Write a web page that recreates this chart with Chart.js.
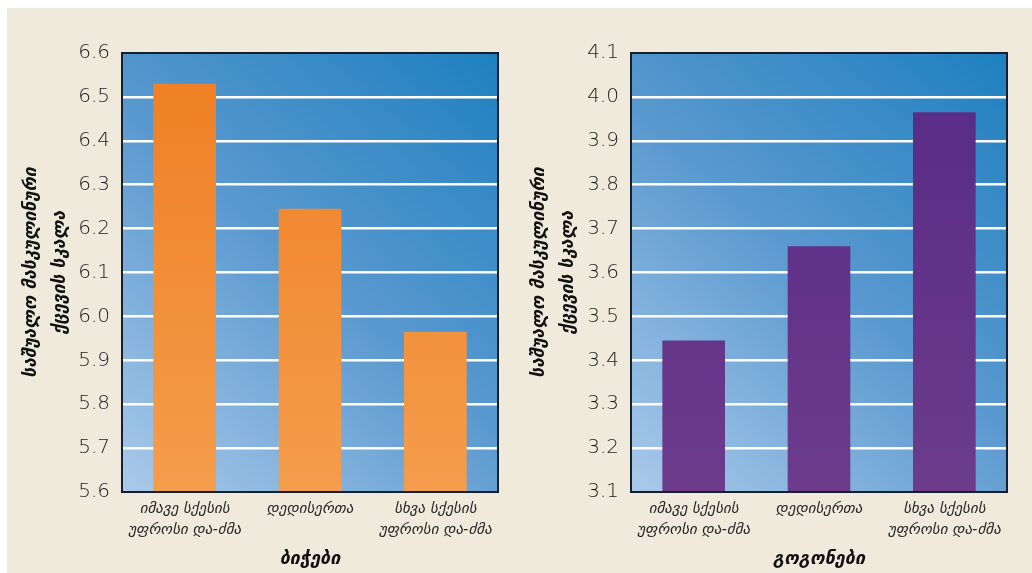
<!DOCTYPE html>
<html lang="ka">
<head>
<meta charset="utf-8">
<title>საშუალო მასკულინური ქცევის სკალა</title>
<script src="https://cdn.jsdelivr.net/npm/chart.js@4.4.1/dist/chart.umd.min.js"></script>
<style>
    html, body { margin: 0; padding: 0; background: #ffffff; }
    #fundo {
        position: absolute; left: 7px; top: 8px; width: 1025px; height: 565px;
        background: #f0eadd;
    }
    .caixa { position: absolute; top: 8px; height: 565px; }
    #caixaBichebi { left: 7px; width: 508px; }
    #caixaGogonebi { left: 515px; width: 517px; }
</style>
</head>
<body>
<div id="fundo"></div>
<div class="caixa" id="caixaBichebi"><canvas id="graficoBichebi"></canvas></div>
<div class="caixa" id="caixaGogonebi"><canvas id="graficoGogonebi"></canvas></div>

<script>
// dados
const categorias = [
    ['იმავე სქესის', 'უფროსი და-ძმა'],
    'დედისერთა',
    ['სხვა სქესის', 'უფროსი და-ძმა']
];
const valoresBichebi = [6.53, 6.245, 5.965];
const valoresGogonebi = [3.445, 3.66, 3.965];
const escalaBichebi = [5.6, 6.6];
const escalaGogonebi = [3.1, 4.1];
const tituloY = ['საშუალო მასკულინური', 'ქცევის სკალა'];
const tituloBichebi = 'ბიჭები';
const tituloGogonebi = 'გოგონები';

const fonteGeo = '"DejaVu Sans", sans-serif';

// fundo em degradê azul + moldura escura da área do gráfico
const pluginFundo = {
    id: 'fundoAzul',
    beforeDraw(chart) {
        const a = chart.chartArea;
        if (!a) return;
        const ctx = chart.ctx;
        const g = ctx.createLinearGradient(a.left, a.bottom, a.right, a.top);
        g.addColorStop(0, '#aacaea');
        g.addColorStop(0.5, '#5a99cf');
        g.addColorStop(1, '#1e80c0');
        ctx.save();
        ctx.fillStyle = g;
        ctx.fillRect(a.left, a.top, a.right - a.left, a.bottom - a.top);
        ctx.restore();
    },
    afterDatasetsDraw(chart) {
        const a = chart.chartArea;
        const ctx = chart.ctx;
        ctx.save();
        ctx.strokeStyle = '#15202c';
        ctx.lineWidth = 2;
        ctx.strokeRect(a.left, a.top, a.right - a.left, a.bottom - a.top);
        ctx.restore();
    }
};

function corBarra(cima, baixo) {
    return function(context) {
        const a = context.chart.chartArea;
        if (!a) return cima;
        const g = context.chart.ctx.createLinearGradient(0, a.top, 0, a.bottom);
        g.addColorStop(0, cima);
        g.addColorStop(1, baixo);
        return g;
    };
}

function criarGrafico(canvasId, valores, escala, tituloX, cores, padDireita) {
    const canvasEl = document.getElementById(canvasId);
    return new Chart(canvasEl, {
        type: 'bar',
        data: {
            labels: categorias,
            datasets: [{
                data: valores,
                backgroundColor: corBarra(cores[0], cores[1]),
                borderWidth: 0,
                barPercentage: 0.5,
                categoryPercentage: 1
            }]
        },
        options: {
            responsive: true,
            maintainAspectRatio: false,
            animation: false,
            layout: { padding: { top: 45, right: padDireita, left: 0, bottom: 0 } },
            plugins: {
                legend: { display: false },
                tooltip: { enabled: false }
            },
            scales: {
                x: {
                    border: { display: false },
                    grid: { display: false, drawTicks: false },
                    ticks: {
                        color: '#262626',
                        padding: 7,
                        maxRotation: 0,
                        autoSkip: false,
                        font: { family: fonteGeo, size: 15, style: 'italic', lineHeight: 1.4 }
                    },
                    title: {
                        display: true,
                        text: tituloX,
                        color: '#111111',
                        padding: { top: 0, bottom: 3 },
                        font: { family: fonteGeo, size: 18, style: 'italic', weight: 'bold', lineHeight: 1.2 }
                    },
                    afterFit(scale) { scale.height = 81; }
                },
                y: {
                    min: escala[0],
                    max: escala[1],
                    border: { display: false },
                    grid: {
                        drawTicks: false,
                        lineWidth: 2.5,
                        color: function(ctx) {
                            // sem linha nas bordas (a moldura já cobre)
                            const v = ctx.tick ? ctx.tick.value : null;
                            if (v === null) return 'transparent';
                            if (Math.abs(v - escala[0]) < 1e-6 || Math.abs(v - escala[1]) < 1e-6) return 'transparent';
                            return '#ffffff';
                        }
                    },
                    ticks: {
                        stepSize: 0.1,
                        padding: 12,
                        color: '#1c1c1c',
                        font: { family: '"DejaVu Sans", sans-serif', size: 20, weight: '200' },
                        callback: function(v) { return Number(v).toFixed(1); }
                    },
                    title: {
                        display: true,
                        text: tituloY,
                        color: '#111111',
                        padding: { top: 10, bottom: 0 },
                        font: { family: fonteGeo, size: 17.5, style: 'italic', weight: 'bold', lineHeight: 1.65 }
                    },
                    afterFit(scale) { scale.width = canvasId === 'graficoBichebi' ? 115 : 116; }
                }
            }
        },
        plugins: [pluginFundo]
    });
}

criarGrafico('graficoBichebi', valoresBichebi, escalaBichebi, tituloBichebi, ['#ef7e22', '#f49d4c'], 17);
criarGrafico('graficoGogonebi', valoresGogonebi, escalaGogonebi, tituloGogonebi, ['#562b85', '#6c3b8c'], 25);
</script>
</body>
</html>
